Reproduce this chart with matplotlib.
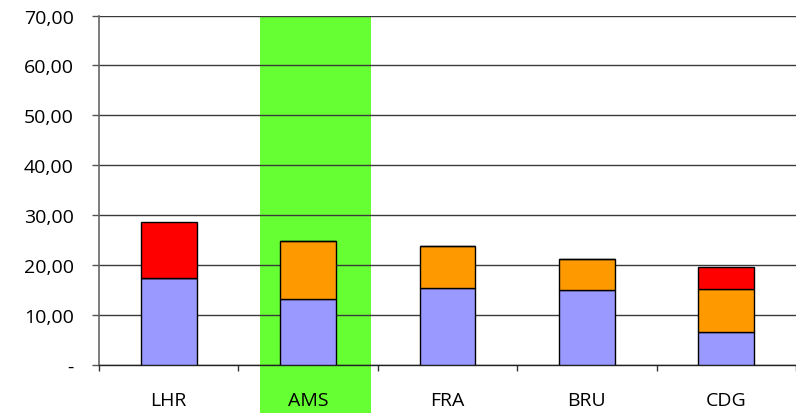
import matplotlib
matplotlib.use("Agg")
import matplotlib.pyplot as plt
from matplotlib.patches import Rectangle
from matplotlib.ticker import FuncFormatter, FixedLocator

airports = ["LHR", "AMS", "FRA", "BRU", "CDG"]
base = [17.4, 13.1, 15.4, 14.9, 6.6]
middle = [0.0, 11.7, 8.4, 6.3, 8.5]
top = [11.1, 0.0, 0.0, 0.0, 4.4]
highlight = "AMS"

plt.rcParams["font.family"] = ["Open Sans", "DejaVu Sans"]

fig = plt.figure(figsize=(7.96, 4.14), dpi=100)
ax = fig.add_axes([99 / 796, 1 - 365.5 / 414, 1 - 99 / 796, 349 / 414])

x = list(range(len(airports)))
w = 0.4
ec = "black"
lw = 1.0

# highlight band behind the selected airport, running below the axis
hi = airports.index(highlight)
band = Rectangle((hi - 0.347, 70), 0.795, -70 - 50, transform=ax.transData,
                 facecolor="#66ff33", edgecolor="none", zorder=0, clip_on=False)
ax.add_patch(band)

ax.bar(x, base, width=w, color="#9999ff", edgecolor=ec, linewidth=lw, zorder=3)
ax.bar(x, middle, width=w, bottom=base, color="#ff9900", edgecolor=ec, linewidth=lw, zorder=3)
b3 = [b + m for b, m in zip(base, middle)]
ax.bar(x, top, width=w, bottom=b3, color="#ff0000", edgecolor=ec, linewidth=lw, zorder=3)

ax.set_xlim(-0.5, len(airports) - 0.5)
ax.set_ylim(0, 70)
ax.set_yticks(range(0, 71, 10))
ax.yaxis.set_major_formatter(FuncFormatter(lambda v, p: "-" if v == 0 else f"{v:.2f}".replace(".", ",")))
ax.yaxis.grid(True, color="#3a3a3a", linewidth=1.0, zorder=1)
ax.set_axisbelow(True)

ax.set_xticks(x)
ax.set_xticklabels(airports)
ax.xaxis.set_minor_locator(FixedLocator([i - 0.5 for i in range(len(airports) + 1)]))
ax.tick_params(axis="x", which="major", length=0, pad=19, labelsize=14)
ax.tick_params(axis="x", which="minor", length=4.5, width=1, color="#333333", direction="out")
ax.tick_params(axis="y", length=5, width=1, color="#555555", labelsize=14, pad=13)

for s in ["top", "right"]:
    ax.spines[s].set_visible(False)
ax.spines["left"].set_color("#666666")
ax.spines["left"].set_linewidth(1.2)
ax.spines["bottom"].set_color("#222222")
ax.spines["bottom"].set_linewidth(1.0)

fig.savefig("out.png", dpi=100)
